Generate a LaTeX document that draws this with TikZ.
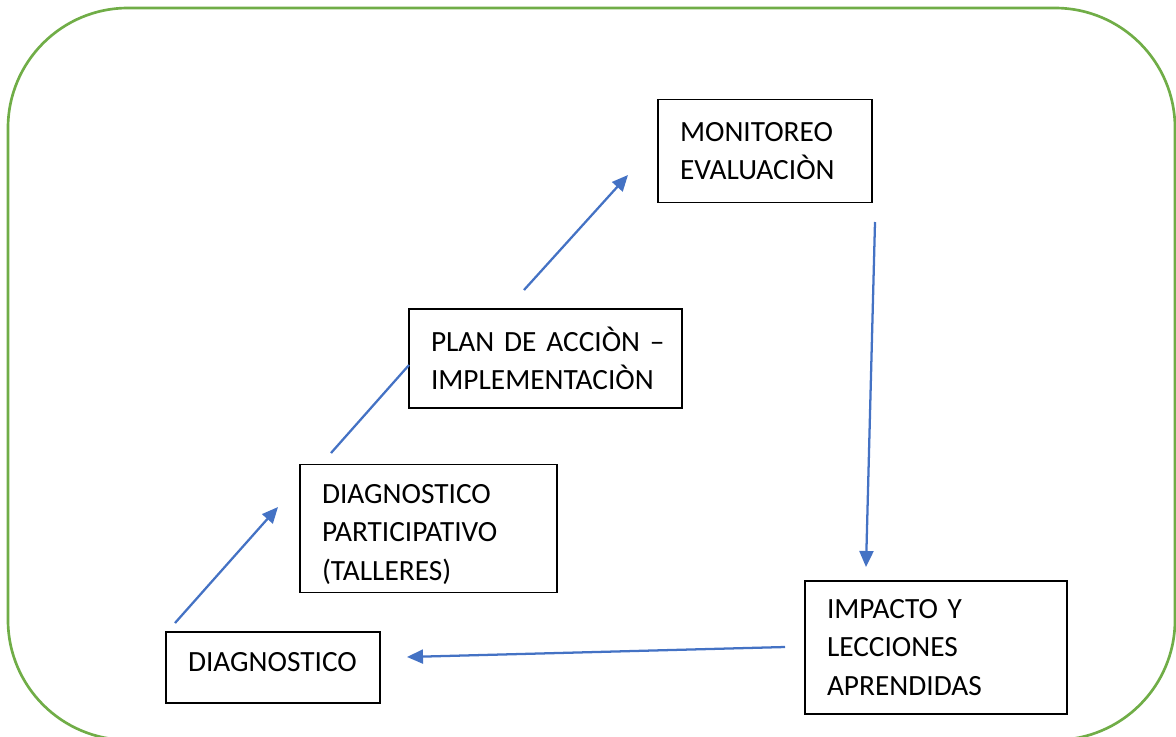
\documentclass[tikz,border=0pt]{standalone}
\usepackage{fontspec}
\setmainfont[WordSpace=0.85]{Carlito}
\usepackage{tikz}
\usetikzlibrary{arrows.meta}

\definecolor{framegreen}{HTML}{70AD47}
\definecolor{arrowblue}{HTML}{4472C4}

\begin{document}
\begin{tikzpicture}[x=0.75pt, y=-0.75pt,
  stage/.style={draw, line width=1.4pt, align=left, inner xsep=16.5pt, inner ysep=0pt,
    font=\fontsize{22pt}{28.9pt}\selectfont},
  flow/.style={arrowblue, line width=1.7pt, -{Triangle[length=12pt, width=10.5pt]}}]
  \useasboundingbox (0,0) rectangle (1176,736);
  \draw [framegreen, line width=2pt, rounded corners=90pt] (8,8) rectangle (1175,740);

  \node [stage, text width=127.5pt, minimum height=77.25pt] (monit) at (765, 151) {MONITOREO\\EVALUACIÒN};
  \node [stage, text width=171.75pt, minimum height=74.25pt] (plan) at (545.5, 358.5) {\mbox{PLAN DE ACCIÒN –}\\IMPLEMENTACIÒN};
  \node [stage, text width=159.75pt, minimum height=96pt] (diagpart) at (428.5, 528.5) {\rule{0pt}{23pt}DIAGNOSTICO\\PARTICIPATIVO\\(TALLERES)};
  \node [stage, text width=127.5pt, minimum height=53.25pt, text depth=9pt] (diag) at (273, 667.5) {DIAGNOSTICO};
  \node [stage, text width=163.5pt, minimum height=99.75pt] (impacto) at (936, 647.5) {IMPACTO Y\\LECCIONES\\APRENDIDAS};

  \coordinate (a1s) at (175, 623);
  \coordinate (a1e) at (278, 507);
  \coordinate (a2s) at (331, 453);
  \coordinate (a2e) at (409, 365);
  \coordinate (a3s) at (524, 290);
  \coordinate (a3e) at (628, 175);
  \coordinate (a4s) at (875, 222);
  \coordinate (a4e) at (866, 567);
  \coordinate (a5s) at (785, 647);
  \coordinate (a5e) at (407, 657);

  \draw [flow] (a1s) -- (a1e);
  \draw [arrowblue, line width=1.7pt] (a2s) -- (a2e);
  \draw [flow] (a3s) -- (a3e);
  \draw [flow] (a4s) -- (a4e);
  \draw [flow] (a5s) -- (a5e);
\end{tikzpicture}
\end{document}
